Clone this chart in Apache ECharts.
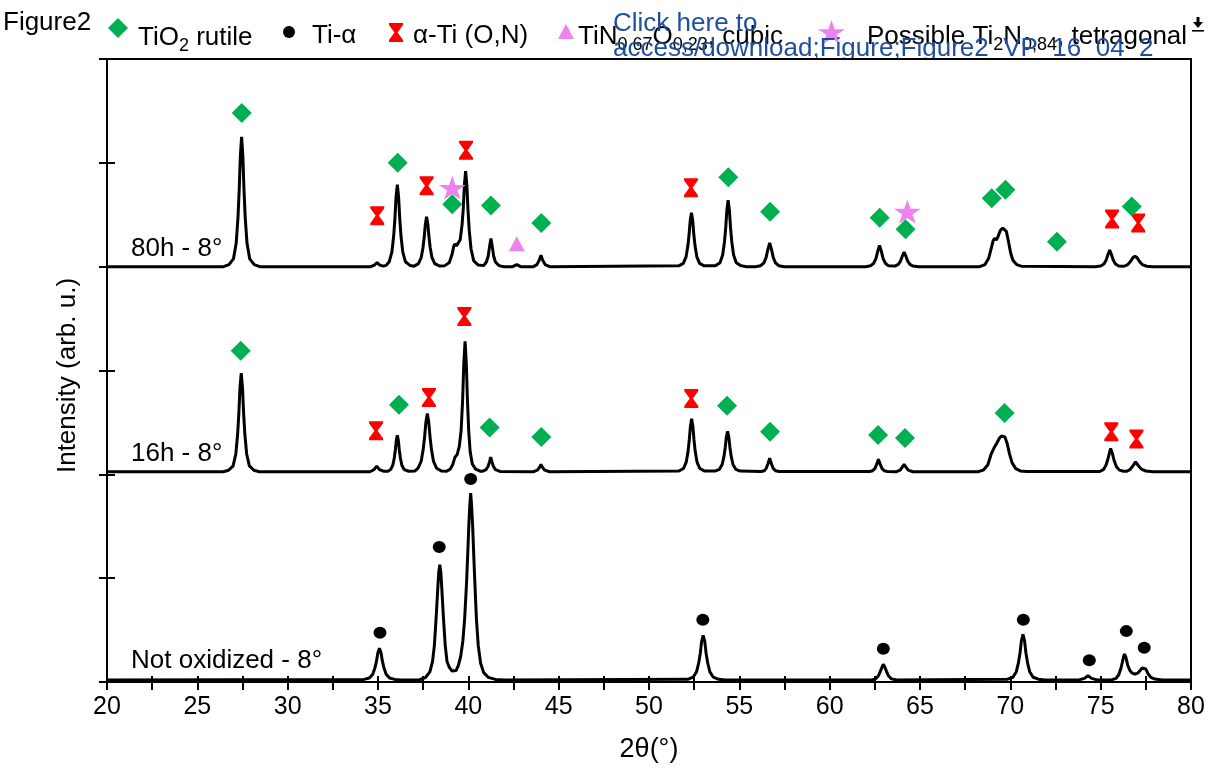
<!DOCTYPE html>
<html>
<head>
<meta charset="utf-8">
<script src="https://cdn.jsdelivr.net/npm/echarts@6.0.0/dist/echarts.min.js"></script>
<style>
  html, body { margin: 0; padding: 0; background: #fff; }
  #chart { width: 1212px; height: 771px; }
</style>
</head>
<body>
<div id="chart"></div>
<script>
// 2θ axis range and tick spacing (labels every 5°, ticks every 2.5°)
const twoThetaRange = [20, 80];
const twoThetaTickStep = 2.5;
const twoThetaLabelStep = 5;
const intensityRange = [0, 6];

// Diffraction patterns, vertically offset: [2θ, intensity]
const pattern80h = [
  [20,4.000],[26.45,4.000],[26.75,4.019],[27.00,4.075],[27.15,4.225],[27.25,4.475],[27.32,4.750],[27.38,5.063],[27.45,5.250],[27.52,5.063],[27.58,4.750],[27.65,4.475],[27.75,4.225],[27.90,4.075],[28.15,4.019],[28.45,4.000],
  [34.60,4.000],[34.80,4.015],[34.95,4.040],[35.10,4.015],[35.30,4.005],
  [35.45,4.012],[35.62,4.047],[35.77,4.142],[35.87,4.300],[35.94,4.474],[36.00,4.672],[36.07,4.790],[36.14,4.672],[36.20,4.474],[36.27,4.300],[36.37,4.142],[36.52,4.047],[36.77,4.012],
  [37.00,4.005],[37.24,4.029],[37.39,4.086],[37.49,4.182],[37.56,4.288],[37.62,4.408],[37.69,4.480],[37.76,4.408],[37.82,4.288],[37.89,4.182],[37.99,4.086],[38.14,4.029],[38.39,4.007],
  [38.70,4.010],[38.95,4.040],[39.10,4.120],[39.20,4.200],[39.26,4.220],[39.34,4.200],[39.42,4.195],[39.55,4.260],[39.65,4.400],[39.72,4.560],[39.78,4.780],[39.85,4.920],[39.92,4.780],[39.98,4.550],[40.05,4.350],[40.15,4.170],[40.30,4.055],[40.55,4.015],
  [40.85,4.010],[41.00,4.045],[41.10,4.103],[41.18,4.200],[41.25,4.270],[41.32,4.200],[41.40,4.103],[41.50,4.045],[41.70,4.010],[41.95,4.000],
  [42.45,4.000],[42.68,4.020],[42.90,4.000],
  [43.60,4.000],[43.80,4.020],[43.93,4.065],[44.02,4.110],[44.11,4.065],[44.25,4.020],[44.50,4.000],
  [51.65,4.008],[51.90,4.031],[52.05,4.094],[52.15,4.198],[52.22,4.312],[52.28,4.442],[52.35,4.520],[52.42,4.442],[52.48,4.312],[52.55,4.198],[52.65,4.094],[52.80,4.031],[53.05,4.008],
  [53.68,4.010],[53.93,4.038],[54.08,4.115],[54.18,4.243],[54.25,4.384],[54.31,4.544],[54.38,4.640],[54.45,4.544],[54.51,4.384],[54.58,4.243],[54.68,4.115],[54.83,4.038],[55.08,4.010],[55.40,4.000],
  [55.88,4.000],[56.18,4.009],[56.36,4.037],[56.48,4.087],[56.58,4.166],[56.68,4.230],[56.78,4.166],[56.88,4.087],[57.00,4.037],[57.18,4.009],[57.48,4.000],
  [62.00,4.000],[62.26,4.008],[62.44,4.033],[62.56,4.078],[62.66,4.148],[62.76,4.205],[62.86,4.148],[62.96,4.078],[63.08,4.033],[63.26,4.008],
  [63.62,4.006],[63.80,4.022],[63.92,4.053],[64.02,4.101],[64.12,4.140],[64.22,4.101],[64.32,4.053],[64.44,4.022],[64.62,4.006],[64.92,4.000],
  [68.30,4.000],[68.60,4.020],[68.80,4.080],[68.95,4.180],[69.05,4.250],[69.13,4.275],[69.22,4.255],[69.32,4.290],[69.45,4.350],[69.58,4.372],[69.67,4.375],[69.78,4.340],[69.90,4.240],[70.02,4.130],[70.15,4.060],[70.35,4.020],[70.60,4.005],
  [74.70,4.000],[75.00,4.006],[75.18,4.026],[75.30,4.061],[75.40,4.115],[75.50,4.160],[75.60,4.115],[75.70,4.061],[75.82,4.026],[76.00,4.006],
  [76.30,4.004],[76.50,4.020],[76.65,4.050],[76.78,4.085],[76.90,4.100],[77.02,4.085],[77.15,4.050],[77.30,4.020],[77.55,4.004],[77.90,4.000],[80,4.000]
];

const pattern16h = [
  [20,2.025],[26.43,2.025],[26.73,2.039],[26.98,2.082],[27.13,2.196],[27.23,2.386],[27.30,2.595],[27.36,2.833],[27.43,2.975],[27.50,2.833],[27.56,2.595],[27.63,2.386],[27.73,2.196],[27.88,2.082],[28.13,2.039],[28.43,2.025],
  [34.55,2.025],[34.78,2.045],[34.93,2.080],[35.08,2.045],[35.30,2.030],
  [35.55,2.030],[35.70,2.046],[35.82,2.088],[35.90,2.158],[35.96,2.235],[36.01,2.322],[36.07,2.375],[36.13,2.322],[36.18,2.235],[36.24,2.158],[36.32,2.088],[36.45,2.046],[36.70,2.030],
  [37.05,2.033],[37.22,2.059],[37.39,2.126],[37.50,2.238],[37.58,2.361],[37.65,2.501],[37.73,2.585],[37.81,2.501],[37.88,2.361],[37.96,2.238],[38.07,2.126],[38.24,2.059],[38.50,2.033],
  [38.80,2.030],[39.00,2.050],[39.15,2.100],[39.26,2.165],[39.38,2.190],[39.50,2.270],[39.60,2.420],[39.68,2.700],[39.75,3.070],[39.82,3.280],[39.89,3.060],[39.95,2.720],[40.02,2.420],[40.10,2.220],[40.22,2.100],[40.40,2.050],[40.65,2.030],
  [40.80,2.030],[40.98,2.045],[41.10,2.080],[41.17,2.120],[41.24,2.165],[41.31,2.120],[41.38,2.080],[41.50,2.045],[41.75,2.028],
  [43.60,2.025],[43.82,2.040],[43.93,2.065],[44.02,2.095],[44.11,2.065],[44.23,2.040],[44.50,2.025],
  [51.66,2.033],[51.91,2.056],[52.06,2.117],[52.16,2.219],[52.23,2.331],[52.29,2.459],[52.36,2.535],[52.43,2.459],[52.49,2.331],[52.56,2.219],[52.66,2.117],[52.81,2.056],[53.06,2.033],
  [53.65,2.031],[53.90,2.048],[54.05,2.095],[54.15,2.173],[54.22,2.259],[54.28,2.357],[54.35,2.415],[54.42,2.357],[54.48,2.259],[54.55,2.173],[54.65,2.095],[54.80,2.048],[55.05,2.031],
  [56.20,2.027],[56.38,2.035],[56.48,2.055],[56.58,2.100],[56.68,2.155],[56.78,2.100],[56.88,2.055],[57.00,2.035],[57.20,2.027],
  [62.20,2.027],[62.38,2.035],[62.50,2.055],[62.60,2.095],[62.70,2.145],[62.80,2.095],[62.90,2.055],[63.02,2.035],[63.20,2.027],
  [63.70,2.025],[63.90,2.040],[64.02,2.070],[64.12,2.095],[64.22,2.070],[64.35,2.040],[64.60,2.025],
  [68.20,2.025],[68.50,2.040],[68.75,2.090],[68.95,2.200],[69.10,2.255],[69.25,2.300],[69.40,2.350],[69.52,2.370],[69.60,2.375],[69.70,2.360],[69.82,2.300],[69.95,2.200],[70.10,2.110],[70.30,2.055],[70.55,2.033],[70.90,2.027],
  [74.95,2.027],[75.15,2.045],[75.30,2.090],[75.42,2.160],[75.55,2.250],[75.65,2.200],[75.75,2.130],[75.88,2.070],[76.05,2.040],[76.25,2.030],
  [76.45,2.030],[76.62,2.045],[76.78,2.080],[76.93,2.120],[77.08,2.085],[77.25,2.050],[77.50,2.032],[77.90,2.025],[80,2.025]
];

const patternNotOxidized = [
  [20,0.020],[34.23,0.025],[34.52,0.038],[34.71,0.075],[34.83,0.136],[34.92,0.203],[34.99,0.279],[35.08,0.325],[35.17,0.279],[35.24,0.203],[35.33,0.136],[35.45,0.075],[35.64,0.038],[35.93,0.025],[36.30,0.020],
  [37.30,0.022],[37.62,0.042],[37.87,0.098],[38.02,0.198],[38.12,0.353],[38.19,0.542],[38.24,0.686],[38.30,0.875],[38.36,1.052],[38.42,1.130],[38.48,1.052],[38.54,0.875],[38.60,0.686],[38.65,0.542],[38.72,0.353],[38.82,0.198],[38.95,0.140],[39.10,0.105],[39.20,0.100],[39.32,0.110],[39.45,0.160],[39.58,0.250],[39.70,0.400],[39.80,0.620],[39.90,0.950],[39.97,1.250],[40.03,1.520],[40.08,1.700],[40.13,1.820],[40.18,1.700],[40.24,1.500],[40.30,1.220],[40.37,0.920],[40.45,0.600],[40.55,0.350],[40.68,0.180],[40.85,0.090],[41.10,0.045],[41.50,0.025],[42.00,0.020],
  [52.15,0.026],[52.44,0.046],[52.63,0.097],[52.75,0.183],[52.84,0.278],[52.91,0.386],[53.00,0.450],[53.09,0.386],[53.16,0.278],[53.25,0.183],[53.37,0.097],[53.56,0.046],[53.85,0.026],[54.20,0.020],
  [62.30,0.020],[62.55,0.030],[62.70,0.060],[62.82,0.110],[62.90,0.145],[62.97,0.170],[63.05,0.145],[63.13,0.110],[63.25,0.060],[63.42,0.030],[63.70,0.020],
  [69.85,0.027],[70.14,0.046],[70.33,0.099],[70.45,0.187],[70.54,0.284],[70.61,0.394],[70.70,0.460],[70.79,0.394],[70.86,0.284],[70.95,0.187],[71.07,0.099],[71.26,0.046],[71.55,0.027],[71.90,0.020],
  [73.80,0.020],[74.10,0.035],[74.30,0.060],[74.50,0.035],[74.80,0.020],
  [75.60,0.020],[75.85,0.035],[76.00,0.070],[76.12,0.130],[76.20,0.190],[76.27,0.245],[76.32,0.270],[76.40,0.235],[76.50,0.160],[76.62,0.110],[76.75,0.085],[76.90,0.075],[77.05,0.085],[77.18,0.110],[77.30,0.135],[77.40,0.140],[77.50,0.125],[77.62,0.080],[77.78,0.045],[78.00,0.028],[78.40,0.020],[80,0.020]
];

// Phase identification markers: [2θ, marker height]
const rutileMarks = [
  [27.46,5.48],[36.09,5.00],[39.11,4.60],[41.25,4.59],[44.04,4.42],[54.39,4.86],[56.70,4.53],[62.77,4.47],[64.20,4.36],[68.97,4.66],[69.73,4.74],[72.58,4.24],[76.72,4.58],
  [27.40,3.19],[36.16,2.67],[41.18,2.45],[44.04,2.36],[54.32,2.66],[56.70,2.41],[62.68,2.38],[64.17,2.35],[69.68,2.59]
];
const tiAlphaMarks = [
  [35.11,0.475],[38.39,1.30],[40.13,1.955],[52.98,0.60],[62.97,0.32],[70.72,0.60],[74.37,0.21],[76.42,0.49],[77.41,0.33]
];
const alphaTiONMarks = [
  [34.96,4.49],[37.69,4.78],[39.87,5.12],[52.32,4.76],[75.63,4.46],[77.08,4.42],
  [34.89,2.42],[37.82,2.74],[39.78,3.52],[52.34,2.73],[75.59,2.41],[76.98,2.34]
];
const tiNOMarks = [[42.68,4.22]];
const ti2NMarks = [[39.11,4.76],[64.30,4.53]];

const sampleNames = ['80h - 8°', '16h - 8°', 'Not oxidized - 8°'];

const FONT = '"Liberation Sans", Arial, Helvetica, sans-serif';
const FS = 26;
const HOURGLASS = 'M0,0H14V2L8.6,9.5L14,17V19H0V17L5.4,9.5L0,2Z';
const STAR = 'M50,0L61.2,34.5L97.6,34.5L68.2,55.9L79.4,90.5L50,69.1L20.6,90.5L31.8,55.9L2.4,34.5L38.8,34.5Z';

// Outline points of the hourglass and star glyphs, used for the header key icons
const hourglassOutline = [[0,0],[14,0],[14,2],[8.6,9.5],[14,17],[14,19],[0,19],[0,17],[5.4,9.5],[0,2]];
const starOutline = [[50,0],[61.2,34.5],[97.6,34.5],[68.2,55.9],[79.4,90.5],[50,69.1],[20.6,90.5],[31.8,55.9],[2.4,34.5],[38.8,34.5]];
const placeOutline = (pts, x0, y0, w, h, srcW, srcH, srcX) =>
  pts.map(p => [x0 + (p[0] - (srcX || 0)) * w / srcW, y0 + p[1] * h / srcH]);

const chart = echarts.init(document.getElementById('chart'), null, { renderer: 'canvas' });

const patternLine = (name, data) => ({
  type: 'line', name, data, symbol: 'none', showSymbol: false, silent: true,
  lineStyle: { color: '#000', width: 3 }, z: 2, animation: false
});
const markSeries = (name, data, symbol, size, color, z) => ({
  type: 'scatter', name, data, symbol, symbolSize: size, silent: true,
  itemStyle: { color, opacity: 1 }, z, animation: false
});

const txt = (x, y, text, extra, z) => ({
  type: 'text', x, y, z: z === undefined ? -3 : z,
  style: Object.assign({ text, fill: '#000', fontSize: FS, fontFamily: FONT, align: 'left', verticalAlign: 'middle' }, extra || {})
});
const richSub = {
  n: { fontSize: FS, fontFamily: FONT, color: '#000' },
  s: { fontSize: 18, fontFamily: FONT, color: '#000', padding: [16, 0, 0, 0] }
};
const richTxt = (x, y, text) => ({
  type: 'text', x, y, z: -3,
  style: { text, fill: '#000', fontSize: FS, fontFamily: FONT, align: 'left', verticalAlign: 'middle', rich: richSub }
});

const option = {
  animation: false,
  backgroundColor: '#fff',
  grid: { left: 107, right: 21, top: 59, bottom: 89, show: true, borderColor: '#000', borderWidth: 2, backgroundColor: 'transparent' },
  xAxis: [
    {
      type: 'value', min: twoThetaRange[0], max: twoThetaRange[1], interval: twoThetaTickStep, position: 'bottom', z: 5,
      axisLine: { show: true, onZero: false, lineStyle: { color: '#000', width: 2 } },
      axisTick: { show: true, inside: false, length: 8, lineStyle: { color: '#000', width: 2 } },
      axisLabel: { color: '#000', fontSize: 25, fontFamily: FONT, margin: 13,
        formatter: v => (v % twoThetaLabelStep === 0 ? String(v) : '') },
      splitLine: { show: false },
      name: '2θ(°)', nameLocation: 'middle', nameGap: 54,
      nameTextStyle: { color: '#000', fontSize: 27, fontFamily: FONT }
    },
    {
      type: 'value', min: twoThetaRange[0], max: twoThetaRange[1], interval: twoThetaTickStep, position: 'bottom', z: 5,
      axisLine: { show: false }, axisLabel: { show: false }, splitLine: { show: false },
      axisTick: { show: true, inside: true, length: 6, lineStyle: { color: '#000', width: 2 } }
    }
  ],
  yAxis: [
    {
      type: 'value', min: intensityRange[0], max: intensityRange[1], interval: 1, position: 'left', z: 5,
      axisLine: { show: true, onZero: false, lineStyle: { color: '#000', width: 2 } },
      axisTick: { show: true, inside: false, length: 8, lineStyle: { color: '#000', width: 2 } },
      axisLabel: { show: false }, splitLine: { show: false },
      name: 'Intensity (arb. u.)', nameLocation: 'middle', nameGap: 26,
      nameTextStyle: { color: '#000', fontSize: FS, fontFamily: FONT, padding: [0, 10, 0, 0] }
    },
    {
      type: 'value', min: intensityRange[0], max: intensityRange[1], interval: 1, position: 'left', z: 5,
      axisLine: { show: false }, axisLabel: { show: false }, splitLine: { show: false },
      axisTick: { show: true, inside: true, length: 8, lineStyle: { color: '#000', width: 2 } }
    }
  ],
  series: [
    patternLine(sampleNames[0], pattern80h),
    patternLine(sampleNames[1], pattern16h),
    patternLine(sampleNames[2], patternNotOxidized),
    markSeries('Possible Ti2N0,84, tetragonal', ti2NMarks, 'path://' + STAR, [27, 24], '#ee82ee', 3),
    markSeries('TiN0,67O0,23, cubic', tiNOMarks, 'triangle', [16, 15], '#ee82ee', 3),
    markSeries('α-Ti (O,N)', alphaTiONMarks, 'path://' + HOURGLASS, [14, 19], '#ff0000', 4),
    markSeries('Ti-α', tiAlphaMarks, 'circle', [13, 12], '#000', 4),
    markSeries('TiO2 rutile', rutileMarks, 'diamond', [20, 20], '#00b050', 5)
  ],
  graphic: [
    // sample labels inside the plot
    txt(131, 249, sampleNames[0]),
    txt(131, 454, sampleNames[1]),
    txt(131, 661, sampleNames[2]),
    // header / key row
    txt(3, 23, 'Figure2'),
    { type: 'polygon', z: -3, shape: { points: [[118, 18], [128, 28], [118, 38], [108, 28]] }, style: { fill: '#00b050' } },
    richTxt(138, 38, '{n|TiO}{s|2}{n| rutile}'),
    { type: 'circle', z: -3, shape: { cx: 289, cy: 32, r: 6 }, style: { fill: '#000' } },
    txt(312, 36, 'Ti-α'),
    { type: 'polygon', z: -3, shape: { points: placeOutline(hourglassOutline, 389, 23, 14, 19, 14, 19) }, style: { fill: '#ff0000' } },
    txt(413, 36, 'α-Ti (O,N)'),
    { type: 'polygon', z: -3, shape: { points: [[566, 24], [574, 39], [558, 39]] }, style: { fill: '#ee82ee' } },
    richTxt(578, 37, '{n|TiN}{s|0,67}{n|O}{s|0,23}{n|, cubic}'),
    { type: 'polygon', z: -3, shape: { points: placeOutline(starOutline, 818, 20, 27, 24, 95.2, 90.5, 2.4) }, style: { fill: '#ee82ee' } },
    richTxt(867, 37, '{n|Possible Ti}{s|2}{n|N}{s|0,84}{n|, tetragonal}'),
    // download link overlay (its lower edge is hidden by the plot frame)
    txt(613, 24, 'Click here to', { fill: '#1f4e9e' }, -2),
    txt(613, 49, 'access/download;Figure;Figure2_VP_16_04_2', { fill: '#1f4e9e' }, -2),
    { type: 'rect', z: -1, shape: { x: 560, y: 60, width: 630, height: 22 }, style: { fill: '#fff' } },
    // download icon
    { type: 'polygon', z: -3, shape: { points: [[1193, 22], [1203, 22], [1198, 28]] }, style: { fill: '#000' } },
    { type: 'rect', z: -3, shape: { x: 1196.5, y: 17, width: 3, height: 6 }, style: { fill: '#000' } },
    { type: 'rect', z: -3, shape: { x: 1192, y: 30, width: 12, height: 1.6 }, style: { fill: '#000' } }
  ]
};

chart.setOption(option);
</script>
</body>
</html>
